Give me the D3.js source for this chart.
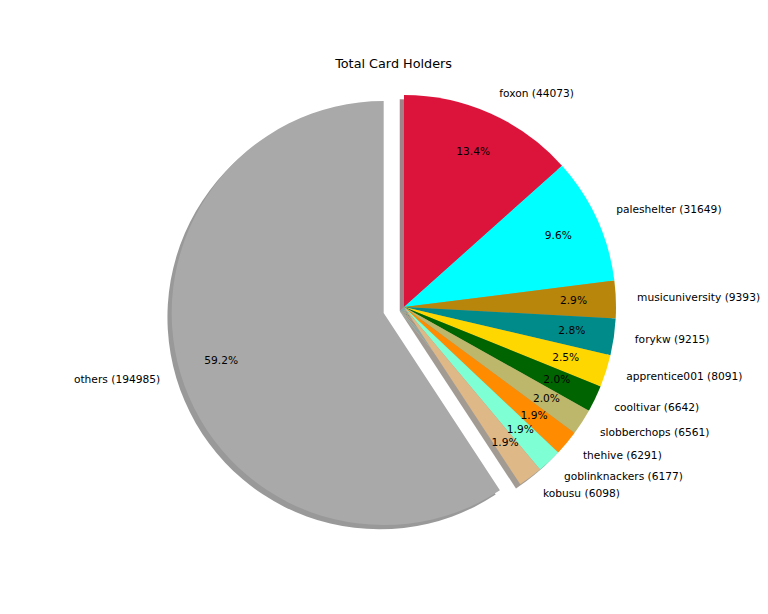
<!DOCTYPE html>
<html><head><meta charset="utf-8">
<script src="https://cdn.jsdelivr.net/npm/d3@7"></script>
<style>body{margin:0;background:#fff} text{font-family:"DejaVu Sans",sans-serif;fill:#000}</style>
</head><body><svg id="c" width="768" height="614"></svg>
<script>
const names = ["foxon","paleshelter","musicuniversity","forykw","apprentice001","cooltivar","slobberchops","thehive","goblinknackers","kobusu","others"];
const values = [44073,31649,9393,9215,8091,6642,6561,6291,6177,6098,194985];
const explode = [0,0,0,0,0,0,0,0,0,0,0.1];
const colors = ["#dc143c","#00ffff","#b8860b","#008b8b","#ffd700","#006400","#bdb76b","#ff8c00","#7fffd4","#deb887","#a9a9a9"];
const title = "Total Card Holders";

const svg = d3.select("#c");
const cxPix = 404, cyPix = 307, R = 212;
const fs = 10.67;
const x = d3.scaleLinear().domain([-1, 1]).range([cxPix - R, cxPix + R]);
const y = d3.scaleLinear().domain([-1, 1]).range([cyPix + R, cyPix - R]);
const total = d3.sum(values);
const pct = d3.format(".1f");

const pie = d3.pie().sort(null).startAngle(0).endAngle(2 * Math.PI);
const arcs = pie(values).map((d, i) => {
  const mid = (d.startAngle + d.endAngle) / 2;
  const ex = explode[i] * Math.sin(mid), ey = explode[i] * Math.cos(mid);
  return {...d, i, mid, ex, ey};
});
const arc = d3.arc().innerRadius(0).outerRadius(R);

// shadows (below all wedges)
svg.append("g").selectAll("path").data(arcs).join("path")
  .attr("transform", d => `translate(${x(d.ex - 0.02)},${y(d.ey - 0.02)})`)
  .attr("d", arc)
  .attr("fill", d => { const c = d3.rgb(colors[d.i]); return d3.rgb(c.r * 0.3, c.g * 0.3, c.b * 0.3).formatHex(); })
  .attr("fill-opacity", 0.5);

// wedges
svg.append("g").selectAll("path").data(arcs).join("path")
  .attr("transform", d => `translate(${x(d.ex)},${y(d.ey)})`)
  .attr("d", arc)
  .attr("fill", d => colors[d.i]);

// outer labels (vertically centred like matplotlib: baseline ~0.262em below centre)
svg.append("g").selectAll("text").data(arcs).join("text")
  .attr("x", d => x(d.ex + 1.1 * Math.sin(d.mid)))
  .attr("y", d => y(d.ey + 1.1 * Math.cos(d.mid)) + 0.262 * fs)
  .attr("text-anchor", d => (d.ex + 1.1 * Math.sin(d.mid)) > 0 ? "start" : "end")
  .attr("font-size", fs + "px")
  .text(d => `${names[d.i]} (${values[d.i]})`);

// percentage labels
svg.append("g").selectAll("text").data(arcs).join("text")
  .attr("x", d => x(d.ex + 0.8 * Math.sin(d.mid)))
  .attr("y", d => y(d.ey + 0.8 * Math.cos(d.mid)) + 0.262 * fs)
  .attr("text-anchor", "middle")
  .attr("font-size", fs + "px")
  .text(d => pct(d.value / total * 100) + "%");

svg.append("text").attr("x", 393.6).attr("y", 68)
  .attr("text-anchor", "middle").attr("font-size", "12.8px").text(title);
</script></body></html>
